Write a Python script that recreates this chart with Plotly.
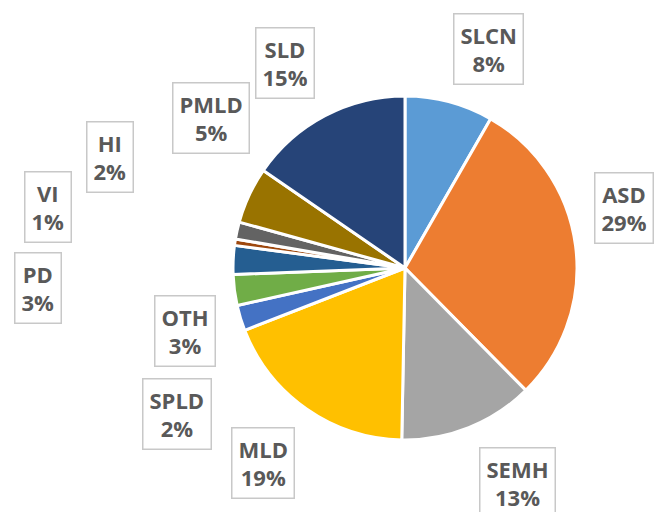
import plotly.graph_objects as go

# Data (clockwise from 12 o'clock)
categories = ["SLCN", "ASD", "SEMH", "MLD", "SPLD", "OTH", "PD", "VI", "HI", "PMLD", "SLD"]
values = [8.3, 29.3, 12.7, 18.8, 2.4, 2.9, 2.7, 0.6, 1.6, 5.3, 15.4]
colors = ["#5B9BD5", "#ED7D31", "#A5A5A5", "#FFC000", "#4472C4", "#70AD47",
          "#255E91", "#9E480E", "#636363", "#997300", "#264478"]

# Label box centres (pixels in the 655x512 canvas)
label_px = {
    "SLCN": (489, 48.5), "ASD": (623.5, 207.5), "SEMH": (517.5, 482.5),
    "MLD": (263, 463), "SPLD": (176.5, 413.5), "OTH": (184.5, 330.5),
    "PD": (38, 287.5), "VI": (47.5, 207), "HI": (109.5, 156.5),
    "PMLD": (211, 118), "SLD": (284.5, 63),
}

W, H = 655, 512
cx, cy, r = 405, 268, 172

total = sum(values)

fig = go.Figure(go.Pie(
    labels=categories, values=values, sort=False, direction="clockwise",
    rotation=0, textinfo="none", hoverinfo="label+percent",
    marker=dict(colors=colors, line=dict(color="white", width=3)),
    domain=dict(x=[(cx - r) / W, (cx + r) / W], y=[(H - cy - r) / H, (H - cy + r) / H]),
    showlegend=False,
))

font_family = "Open Sans, Liberation Sans, Arial, sans-serif"
for cat, v in zip(categories, values):
    px, py = label_px[cat]
    pct = round(v / total * 100)
    fig.add_annotation(
        x=px / W, y=1 - py / H, xref="paper", yref="paper",
        xanchor="center", yanchor="middle", showarrow=False,
        text=f"<b>{cat}</b><br><b>{pct}%</b>",
        font=dict(family=font_family, size=22, color="#595959"),
        height=57,
        bgcolor="white", bordercolor="#C8C8C8", borderwidth=1.5, borderpad=6,
    )

fig.update_layout(
    width=W, height=H, margin=dict(l=0, r=0, t=0, b=0),
    paper_bgcolor="white", plot_bgcolor="white",
)

fig.write_html("out.html", config={"displayModeBar": False},
               post_script="document.body.style.margin='0';")
